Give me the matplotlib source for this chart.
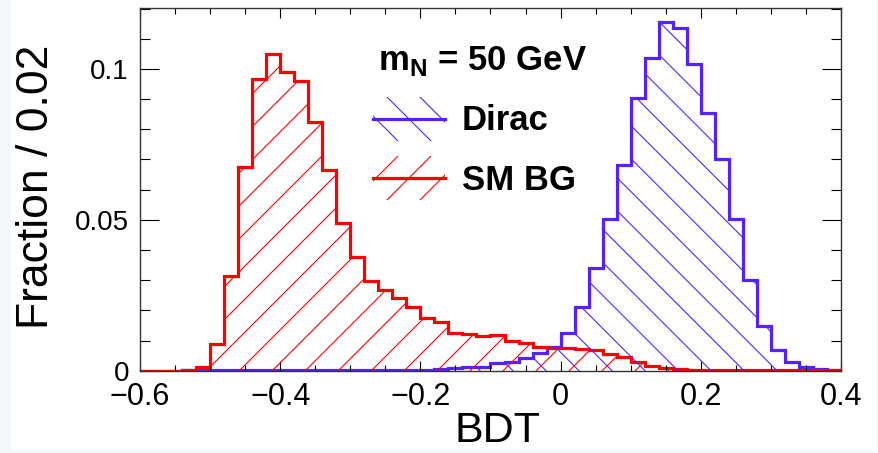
import numpy as np
import matplotlib
matplotlib.use('Agg')
import matplotlib.pyplot as plt
from matplotlib.patches import Polygon, Rectangle
from matplotlib.ticker import MultipleLocator

plt.rcParams['font.family'] = ['Liberation Sans', 'DejaVu Sans']
plt.rcParams['mathtext.fontset'] = 'custom'
plt.rcParams['mathtext.rm'] = 'Liberation Sans'
plt.rcParams['mathtext.bf'] = 'Liberation Sans:bold'

# BDT binning: 50 bins of 0.02 between -0.6 and 0.4
edges = np.round(np.linspace(-0.6, 0.4, 51), 3)

# SM background fraction per bin
sm_bg = [0, 0, 0, 0.0002, 0.0011, 0.0090, 0.0314, 0.0676, 0.0967, 0.1050,
         0.0991, 0.0960, 0.0825, 0.0665, 0.0488, 0.0376, 0.0298, 0.0269, 0.0241, 0.0210,
         0.0173, 0.0160, 0.0126, 0.0120, 0.0115, 0.0119, 0.0099, 0.0091, 0.0078, 0.0076,
         0.0074, 0.0071, 0.0067, 0.0057, 0.0044, 0.0028, 0.0017, 0.0009, 0.0005, 0.0003,
         0.0002, 0.0002, 0.0001, 0.0001, 0.0001, 0.0001, 0.0001, 0.0001, 0.0001, 0.0001]

# Dirac signal (m_N = 50 GeV) fraction per bin
dirac = [0, 0, 0, 0.0001, 0.0001, 0.0001, 0.0001, 0.0001, 0.0001, 0.0001,
         0.0001, 0.0001, 0.0001, 0.0001, 0.0001, 0.0001, 0.0001, 0.0002, 0.0002, 0.0002,
         0.0003, 0.0005, 0.0008, 0.0011, 0.0013, 0.0024, 0.0029, 0.0043, 0.0060, 0.0080,
         0.0126, 0.0210, 0.0339, 0.0502, 0.0682, 0.0905, 0.1035, 0.1156, 0.1135, 0.1015,
         0.0855, 0.0703, 0.0503, 0.0302, 0.0148, 0.0069, 0.0030, 0.0011, 0.0004, 0.0002]

blue = '#5522ff'
red = '#ff0000'

fig = plt.figure(figsize=(8.79, 4.53), dpi=100, facecolor='#f4f8fb')
fig.patches.append(Rectangle((11 / 879, 3 / 453), 865 / 879, 450 / 453,
                             transform=fig.transFigure, facecolor='white',
                             edgecolor='none', zorder=-10))
ax = fig.add_axes([140 / 879, 1 - 370.7 / 453, 701 / 879, 362.7 / 453])
ax.set_xlim(-0.6, 0.4)
ax.set_ylim(0, 0.1202)


def hist_hatch(vals, color, slope, offset=0.0, spacing=33.0):
    # closed polygon under the histogram, used as clip path
    xs = np.repeat(edges, 2)
    ys = np.r_[0, np.repeat(vals, 2), 0]
    poly = Polygon(np.column_stack([xs, ys]), closed=True, facecolor='none',
                   edgecolor='none', transform=ax.transData)
    ax.add_patch(poly)
    # 45 degree lines in pixel space, mapped back to data coords
    bb = ax.get_window_extent()
    inv = ax.transData.inverted()
    h = bb.height
    for c in np.arange(bb.x0 - h - 2 * spacing + offset, bb.x1 + h + 2 * spacing, spacing):
        if slope > 0:
            p = [(c, bb.y0), (c + h, bb.y1)]
        else:
            p = [(c, bb.y1), (c + h, bb.y0)]
        d = inv.transform(p)
        ln, = ax.plot(d[:, 0], d[:, 1], color=color, lw=0.8)
        ln.set_clip_path(poly)
    ax.stairs(vals, edges, color=color, lw=2.3)


hist_hatch(dirac, blue, -1, offset=10)
hist_hatch(sm_bg, red, 1, offset=0)

ax.xaxis.set_minor_locator(MultipleLocator(0.05))
ax.yaxis.set_minor_locator(MultipleLocator(0.01))
ax.set_xticks(np.round(np.arange(-0.6, 0.41, 0.2), 1))
ax.set_xticklabels(['\u22120.6', '\u22120.4', '\u22120.2', '0', '0.2', '0.4'])
ax.set_yticks([0, 0.05, 0.1])
ax.set_yticklabels(['0', '0.05', '0.1'])
ax.tick_params(axis='x', which='major', direction='in', length=7.5, width=0.8,
               top=True, labelsize=22, pad=8)
ax.tick_params(axis='x', which='minor', direction='in', length=4, width=0.8, top=True)
ax.tick_params(axis='y', which='major', direction='in', length=14, width=0.8,
               right=True, labelsize=20, pad=8)
ax.tick_params(axis='y', which='minor', direction='in', length=7, width=0.8, right=True)
for s in ax.spines.values():
    s.set_linewidth(1.0)
    s.set_color('#333333')

# axis titles placed at their centres (figure pixels)
fig.text(498 / 879, 1 - 431 / 453, 'BDT', fontsize=31, ha='center', va='center')
fig.text(37 / 879, 1 - 187 / 453, 'Fraction / 0.02', fontsize=32, rotation=90,
         ha='center', va='center')

# legend drawn by hand, ROOT style
trans = ax.transAxes
W, H = 701.0, 362.7


def ax_xy(px, py):
    return ((px - 140) / W, (370.7 - py) / H)


ax.text(*ax_xy(378, 61), r'$\mathbf{m}_{\mathbf{N}}$ = 50 GeV', transform=trans,
        fontsize=25, fontweight='bold', va='center', ha='left')
for label, color, yc, slope in [('Dirac', blue, 119, -1), ('SM BG', red, 178, 1)]:
    x0, x1 = 373, 445
    box = Rectangle(ax_xy(x0, yc + 22), (x1 - x0) / W, 44 / H, transform=trans,
                    facecolor='none', edgecolor='none')
    ax.add_patch(box)
    for c in np.arange(x0 - 60, x1 + 20, 33):
        if slope > 0:
            pts = [ax_xy(c, yc + 30), ax_xy(c + 60, yc - 30)]
        else:
            pts = [ax_xy(c, yc - 30), ax_xy(c + 60, yc + 30)]
        ln, = ax.plot([pts[0][0], pts[1][0]], [pts[0][1], pts[1][1]], color=color,
                      lw=0.8, transform=trans)
        ln.set_clip_path(box)
    ax.plot([ax_xy(x0, yc)[0], ax_xy(x1, yc)[0]], [ax_xy(x0, yc)[1]] * 2,
            color=color, lw=2.3, transform=trans)
    ax.text(*ax_xy(462, yc + 2), label, transform=trans, fontsize=25,
            fontweight='bold', va='center', ha='left')

fig.savefig('out.png', dpi=100, facecolor=fig.get_facecolor())
